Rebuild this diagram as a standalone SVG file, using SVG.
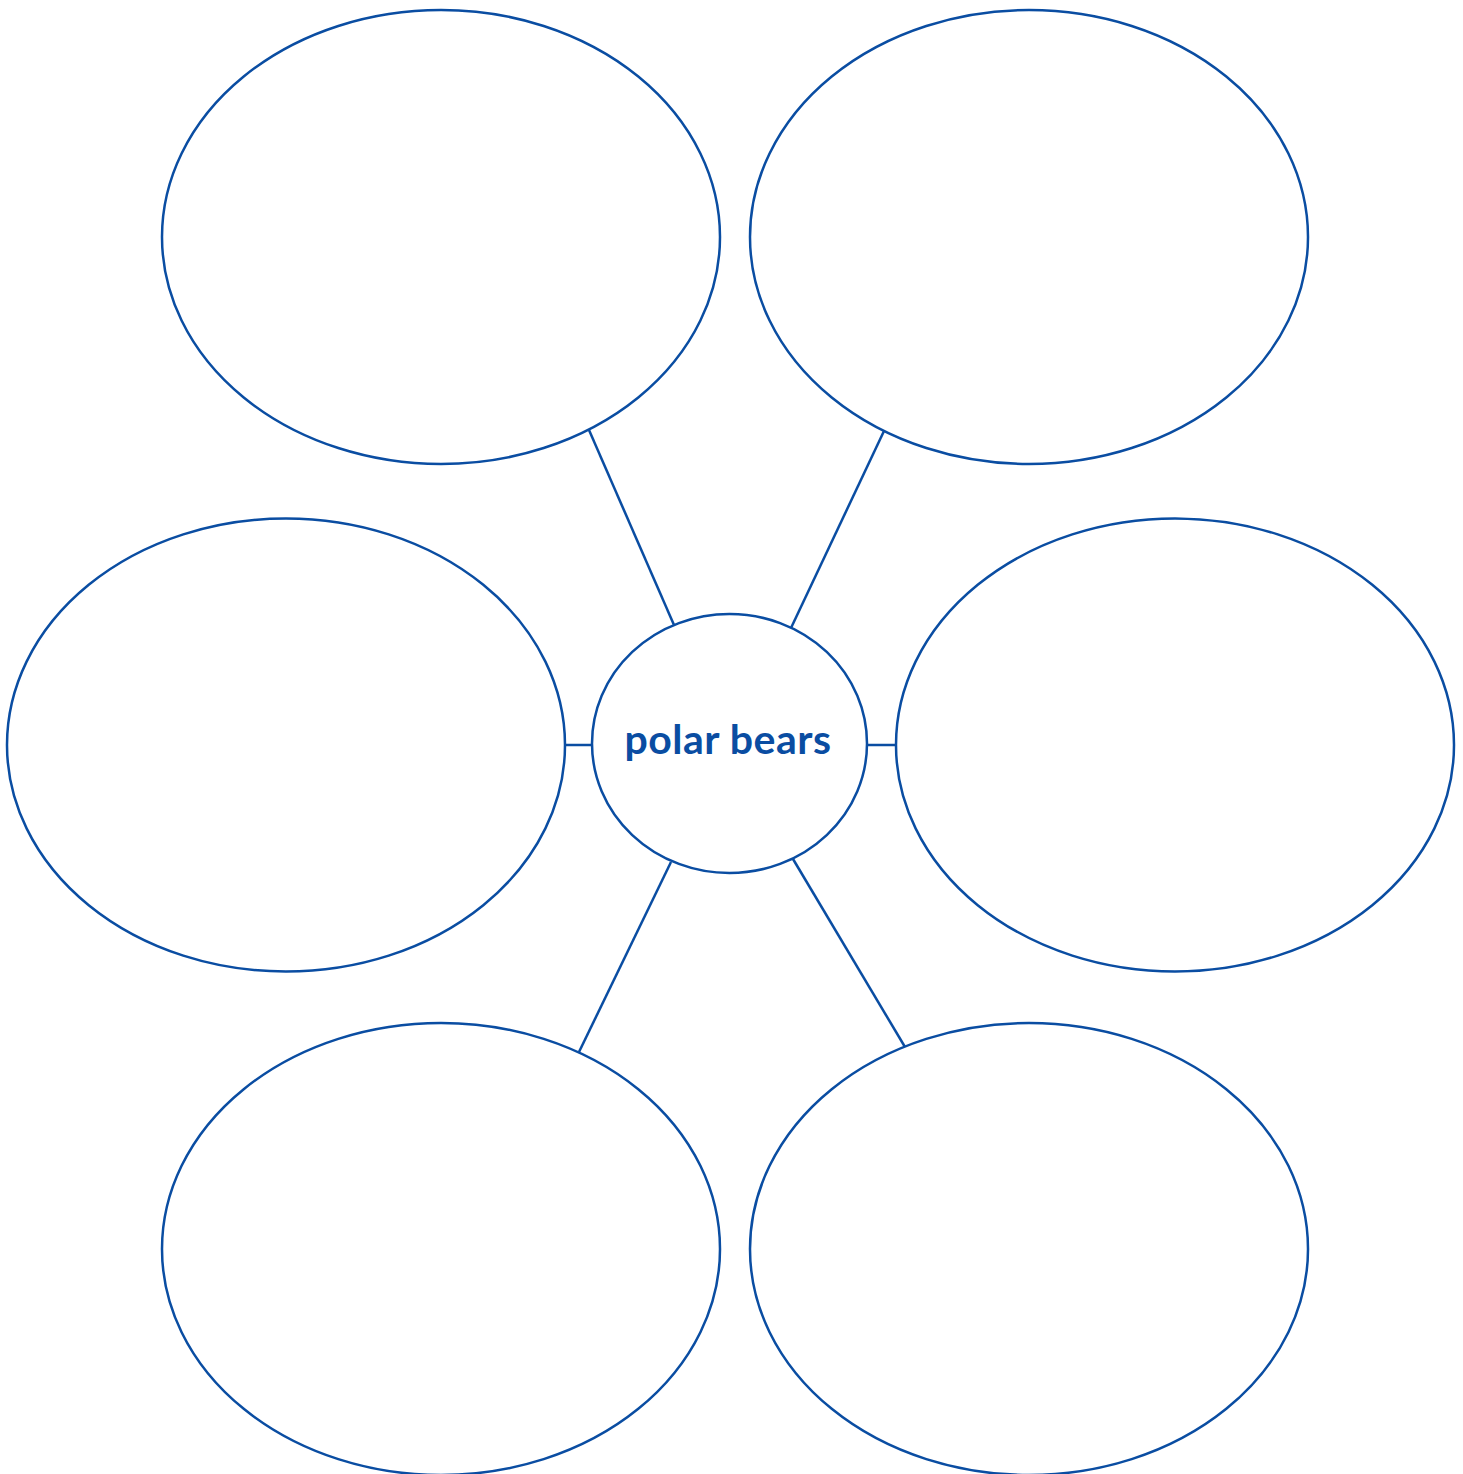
<svg xmlns="http://www.w3.org/2000/svg" width="1463" height="1474" viewBox="0 0 1463 1474">
<style>
.n{fill:#fff;stroke:#0a4da2;stroke-width:2.5}
.c line{stroke:#0a4da2;stroke-width:2.5}
.t{font-family:Lato,"Open Sans",sans-serif;font-weight:bold;font-size:41px;letter-spacing:0.5px;fill:#0a4da2}
</style>
<rect width="1463" height="1474" fill="#fff"/>
<g class="c" id="connectors">
<line x1="589" y1="430" x2="674" y2="625"/>
<line x1="884" y1="431" x2="791" y2="628"/>
<line x1="565" y1="745" x2="592" y2="745"/>
<line x1="866" y1="745" x2="896" y2="745"/>
<line x1="671" y1="862" x2="579" y2="1052"/>
<line x1="793" y1="859" x2="905" y2="1047"/>
</g>
<g id="n-top-left"><ellipse class="n" cx="441" cy="237" rx="279" ry="227"/></g>
<g id="n-top-right"><ellipse class="n" cx="1029" cy="237" rx="279" ry="227"/></g>
<g id="n-mid-left"><ellipse class="n" cx="286" cy="745" rx="279" ry="226.5"/></g>
<g id="n-mid-right"><ellipse class="n" cx="1175" cy="745" rx="279" ry="226.5"/></g>
<g id="n-bot-left"><ellipse class="n" cx="441" cy="1249" rx="279" ry="226"/></g>
<g id="n-bot-right"><ellipse class="n" cx="1029" cy="1249" rx="279" ry="226"/></g>
<g id="n-center"><ellipse class="n" cx="729.5" cy="743.5" rx="137.5" ry="129.5"/>
<text class="t" x="728" y="754" text-anchor="middle">polar bears</text></g>
</svg>
